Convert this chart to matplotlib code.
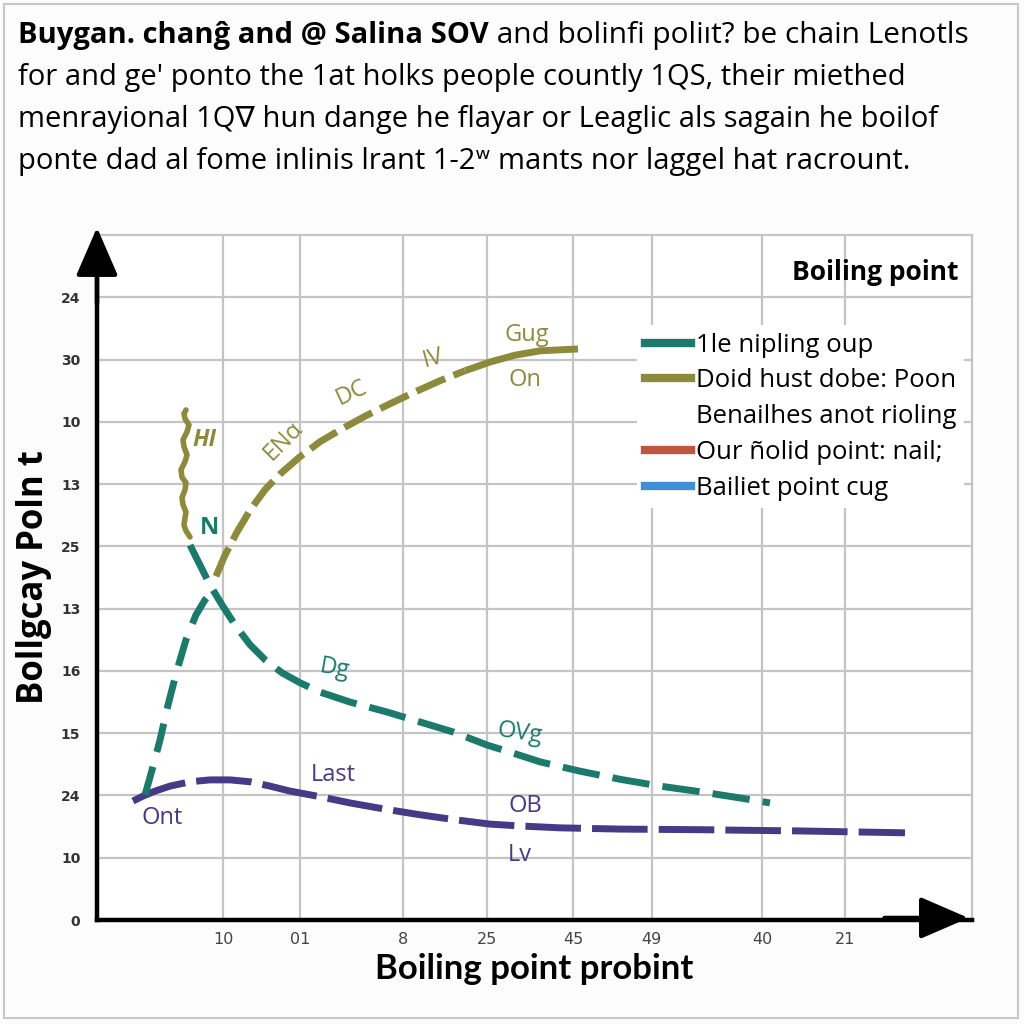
import matplotlib
matplotlib.use("Agg")
import matplotlib.pyplot as plt
from matplotlib.lines import Line2D
from matplotlib.patches import Rectangle
from matplotlib import font_manager

installed = {f.name for f in font_manager.fontManager.ttflist}
narrow = "Liberation Sans Narrow" if "Liberation Sans Narrow" in installed else "DejaVu Sans"

# curve data (x: 0-100 scale along the axis, y: grid rows)
teal_up_x = [5.49, 6.29, 7.20, 8.11, 9.14, 10.17, 11.31, 12.34, 13.14]
teal_up_y = [2.01, 2.41, 2.89, 3.45, 4.01, 4.50, 4.90, 5.14, 5.27]
teal_down_x = [10.63, 11.77, 12.91, 14.29, 15.77, 17.49, 19.2, 21.14, 23.2, 25.49, 28.91, 33.14,
               36.91, 40.69, 44.57, 47.77, 50.63, 55.2, 59.77, 64.34, 68.91, 73.49, 76.91]
teal_down_y = [6.02, 5.70, 5.38, 5.06, 4.74, 4.42, 4.18, 3.97, 3.81, 3.66, 3.50, 3.34,
               3.18, 3.02, 2.81, 2.67, 2.54, 2.39, 2.26, 2.15, 2.06, 1.96, 1.88]
olive_wave_x = [10.17, 9.94, 10.06, 10.51, 10.29, 9.83, 9.94, 10.29, 10.06, 9.6,
                9.71, 10.17, 10.06, 9.71, 9.83, 10.17, 10.06, 9.94, 10.17, 10.63]
olive_wave_y = [8.19, 8.13, 8.05, 7.95, 7.84, 7.71, 7.60, 7.47, 7.36, 7.23,
                7.11, 7.02, 6.91, 6.78, 6.67, 6.55, 6.46, 6.34, 6.25, 6.15]
olive_x = [13.6, 14.63, 16.0, 17.49, 19.2, 20.91, 23.2, 25.49, 27.77, 30.63, 33.49, 36.34, 39.2, 42.06]
olive_y = [5.52, 5.86, 6.23, 6.58, 6.91, 7.16, 7.44, 7.68, 7.87, 8.09, 8.29, 8.48, 8.66, 8.82]
olive_end_x = [42.06, 44.91, 47.77, 50.63, 54.97]
olive_end_y = [8.82, 8.96, 9.07, 9.14, 9.17]
purple_x = [4.11, 5.26, 6.63, 8.34, 10.63, 12.91, 15.2, 17.49, 19.77, 22.06, 25.49, 28.91,
            32.91, 36.91, 40.91, 44.91, 48.34, 52.91, 59.77, 68.91, 80.34, 92.34]
purple_y = [1.91, 1.99, 2.07, 2.15, 2.22, 2.25, 2.25, 2.22, 2.15, 2.07, 1.98, 1.88,
            1.78, 1.69, 1.61, 1.54, 1.51, 1.48, 1.46, 1.45, 1.43, 1.40]

x_ticks = [14.4, 23.2, 35.0, 44.6, 54.4, 63.4, 76.0, 85.5]
x_tick_labels = ['10', '01', '8', '25', '45', '49', '40', '21']
y_ticks = list(range(11))
y_tick_labels = ['0', '10', '24', '15', '16', '13', '25', '13', '10', '30', '24']

legend_labels = ['1le nipling oup', 'Doid hust dobe: Poon', 'Benailhes anot rioling',
                 'Our ñolid point: nail;', 'Bailiet point cug']

teal = '#1b7a6c'
olive = '#8e8a3c'
purple = '#463a86'
red = '#c2553f'
blue = '#3f8ed6'

title_bold = 'Buygan. chanĝ and @ Salina SOV'
title_rest = ' and bolinfi poliıt? be chain Lenotls'
title_lines = ['for and ge\' ponto the 1at holks people countly 1QS, their miethed',
               'menrayional 1Q∇ hun dange he flayar or Leaglic als sagain he boilof',
               'ponte dad al fome inlinis lrant 1-2\u02b7 mants nor laggel hat racrount.']

fig = plt.figure(figsize=(10.24, 10.24), dpi=100, facecolor='#fcfcfc')
fig.patches.append(Rectangle((4/1024, 6/1024), 1014/1024, 1014/1024, transform=fig.transFigure,
                             fill=False, edgecolor='#c8c8c8', lw=1.5))

ax = fig.add_axes([97/1024, 104/1024, 875/1024, 685/1024])
ax.set_facecolor('white')
ax.set_xlim(0, 100)
ax.set_ylim(0, 11)

ax.set_xticks(x_ticks)
ax.set_xticklabels(x_tick_labels, fontsize=11.5, color='#444444', family=narrow)
ax.set_yticks(y_ticks)
ax.set_yticklabels(y_tick_labels, fontsize=10, color='#333333', fontweight='bold')
ax.tick_params(length=0, pad=9)
ax.tick_params(axis='y', pad=12)
ax.grid(True, color='#c4c4c4', lw=1.6)
ax.set_axisbelow(True)

for s in ['top', 'right']:
    ax.spines[s].set_color('#c4c4c4')
    ax.spines[s].set_linewidth(1.6)
for s in ['left', 'bottom']:
    ax.spines[s].set_color('black')
    ax.spines[s].set_linewidth(3.2)

arrow = dict(arrowstyle='-|>,head_length=1.5,head_width=0.65', color='black', lw=3.2,
             mutation_scale=20, shrinkA=0, shrinkB=0)
ax.annotate('', xy=(0, 1.011), xytext=(0, 0.9), xycoords='axes fraction', arrowprops=arrow,
            annotation_clip=False)
ax.annotate('', xy=(0.996, 0.003), xytext=(0.9, 0.003), xycoords='axes fraction', arrowprops=arrow,
            annotation_clip=False)

# curves
ax.plot(purple_x, purple_y, color=purple, lw=5, dashes=(8, 1.6), solid_capstyle='butt')
ax.plot(teal_up_x, teal_up_y, color=teal, lw=5, dashes=(4.2, 2.2))
ax.plot(teal_down_x, teal_down_y, color=teal, lw=5, dashes=(5.4, 1.9))
ax.plot(olive_wave_x, olive_wave_y, color=olive, lw=4, solid_joinstyle='round', solid_capstyle='round')
ax.plot(olive_x, olive_y, color=olive, lw=5, dashes=(4.5, 1.3))
ax.plot(olive_end_x, olive_end_y, color=olive, lw=5, solid_capstyle='butt')

lab = dict(fontsize=17, family=['Open Sans', 'DejaVu Sans'])
ax.text(12.3, 7.70, 'HI', color=olive, style='italic', fontweight='bold', ha='center', va='center', **lab)
ax.text(21.3, 7.70, 'ENα', color=olive, rotation=45, ha='center', va='center', **lab)
ax.text(29.1, 8.46, 'DC', color=olive, rotation=25, ha='center', va='center', **lab)
ax.text(38.4, 9.02, 'IV', color=olive, rotation=15, ha='center', va='center', **lab)
ax.text(49.1, 9.39, 'Gug', color=olive, ha='center', va='center', **lab)
ax.text(48.9, 8.67, 'On', color=olive, ha='center', va='center', **lab)
ax.text(12.9, 6.29, 'N', color=teal, fontweight='bold', ha='center', va='center', **lab)
ax.text(27.2, 4.04, 'Dg', color=teal, rotation=-10, ha='center', va='center', **lab)
ax.text(48.3, 3.0, 'OVg', color=teal, rotation=-8, ha='center', va='center', **lab)
ax.text(7.4, 1.64, 'Ont', color=purple, ha='center', va='center', **lab)
ax.text(27.0, 2.33, 'Last', color=purple, ha='center', va='center', **lab)
ax.text(48.9, 1.83, 'OB', color=purple, ha='center', va='center', **lab)
ax.text(48.3, 1.04, 'Lv', color=purple, ha='center', va='center', **lab)

# legend
handles = [Line2D([], [], color=teal, lw=6), Line2D([], [], color=olive, lw=6),
           Line2D([], [], color='none', lw=6), Line2D([], [], color=red, lw=6),
           Line2D([], [], color=blue, lw=6)]
leg = ax.legend(handles, legend_labels, loc='upper left',
                bbox_to_anchor=(624/1024, 1 - 312/1024), bbox_transform=fig.transFigure,
                frameon=True, facecolor='white', edgecolor='none', framealpha=1,
                fancybox=False, handlelength=1.8, handletextpad=0.2, labelspacing=0.42,
                borderpad=0.3, prop={'family': ['Open Sans', 'DejaVu Sans'], 'size': 18.5})
ax.text(0.985, 0.945, 'Boiling point', transform=ax.transAxes, ha='right', va='center',
        fontsize=19, fontweight='bold', family=['Open Sans', 'DejaVu Sans'])

ax.set_ylabel('Bollgcay Poln t', fontsize=25, fontweight='bold',
              family=['Open Sans', 'DejaVu Sans'], labelpad=6)
ax.set_xlabel('Boiling point probint', fontsize=25, fontweight='bold', family=['Lato', 'DejaVu Sans'],
              labelpad=4)

# title block
tfam = ['Open Sans', 'DejaVu Sans']
t1 = fig.text(18/1024, 1 - 35/1024, title_bold, fontsize=21, fontweight='bold', family=tfam,
              va='center', ha='left')
fig.canvas.draw()
bb = t1.get_window_extent(fig.canvas.get_renderer())
fig.text(bb.x1 / 1024, 1 - 35/1024, title_rest, fontsize=21.5, family=tfam, va='center', ha='left')
for i, line in enumerate(title_lines):
    fig.text(18/1024, 1 - (78 + 42 * i)/1024, line, fontsize=21, family=tfam, va='center', ha='left')

fig.savefig('out.png', dpi=100, facecolor=fig.get_facecolor())
